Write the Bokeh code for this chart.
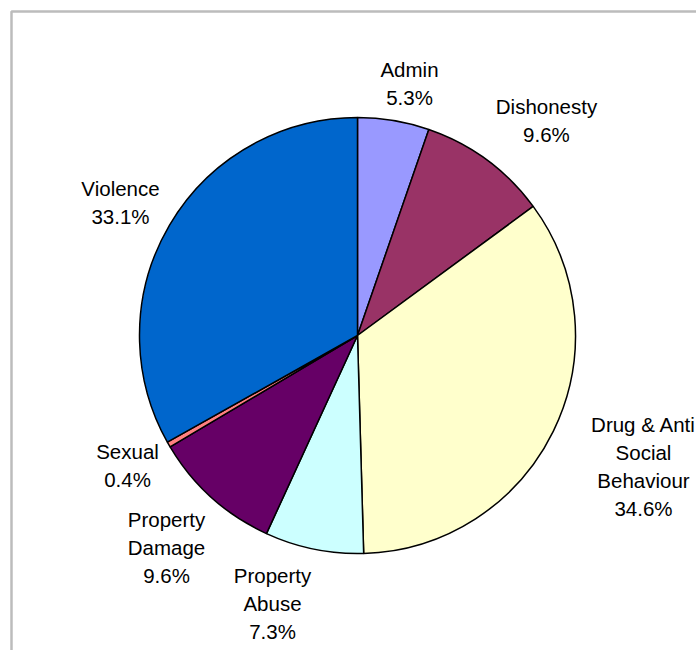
import math
from bokeh.plotting import figure
from bokeh.models import Range1d, BoxAnnotation, ColumnDataSource
from bokeh.core.properties import value
from bokeh.embed import file_html
from bokeh.resources import INLINE

# Data (clockwise from 12 o'clock)
categories = ["Admin", "Dishonesty", "Drug & Anti Social Behaviour", "Property Abuse",
              "Property Damage", "Sexual", "Violence"]
shares = [5.3, 9.6, 34.6, 7.3, 9.6, 0.4, 33.1]
label_text = ["Admin\n5.3%", "Dishonesty\n9.6%", "Drug & Anti\nSocial\nBehaviour\n34.6%",
              "Property\nAbuse\n7.3%", "Property\nDamage\n9.6%", "Sexual\n0.4%", "Violence\n33.1%"]
colors = ["#9999FF", "#993366", "#FFFFCC", "#CCFFFF", "#660066", "#FF8080", "#0066CC"]

# Layout (pixel-like coordinates, y measured upward)
W, H = 696, 650
cx, cy, R = 357, H - 335, 218
label_x = [409, 546, 643, 272, 166, 127, 120]
label_top = [57, 94, 412, 563, 507, 439, 176]

total = sum(shares)
starts, ends = [], []
acc = 0.0
for s in shares:
    starts.append(math.pi / 2 - 2 * math.pi * acc / total)
    acc += s
    ends.append(math.pi / 2 - 2 * math.pi * acc / total)

p = figure(width=W, height=H, output_backend="svg", toolbar_location=None,
           x_range=Range1d(0, W), y_range=Range1d(0, H), min_border=0)
p.axis.visible = False
p.grid.visible = False
p.outline_line_color = None
p.background_fill_color = "white"
p.border_fill_color = "white"

src = ColumnDataSource(dict(start=starts, end=ends, color=colors, cat=categories))
p.wedge(x=cx, y=cy, radius=R, start_angle="start", end_angle="end", direction="clock",
        fill_color="color", line_color="black", line_width=1.5, source=src)

lsrc = ColumnDataSource(dict(x=label_x, y=[H - t for t in label_top], text=label_text))
p.text(x="x", y="y", text="text", source=lsrc, text_align="center", text_baseline="top",
       text_font=value("Liberation Sans"), text_font_size="20.5px", text_color="#000000",
       text_line_height=1.22)

frame = BoxAnnotation(left=11, right=W + 20, top=H - 11, bottom=-20, fill_color=None,
                      line_color="#222222", line_width=2.5)
p.add_layout(frame)

open("out.html", "w").write(file_html(p, INLINE))
